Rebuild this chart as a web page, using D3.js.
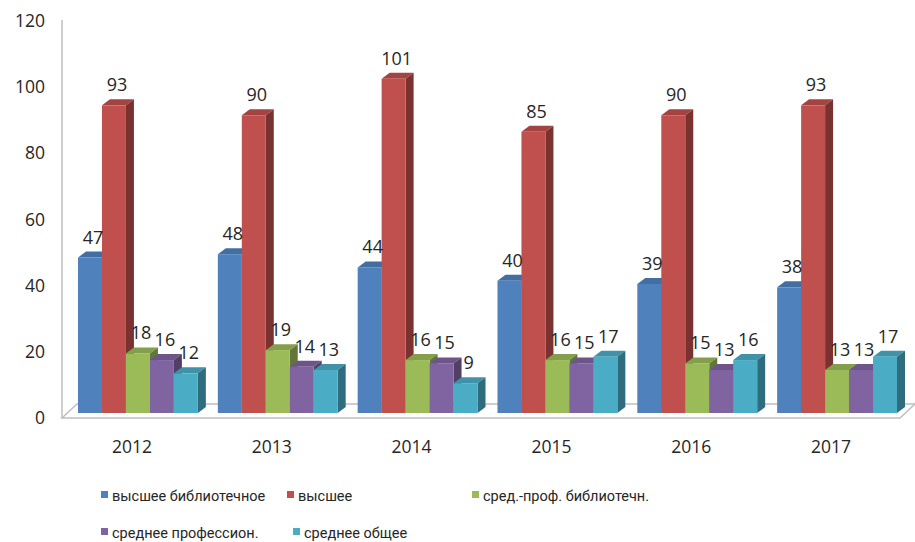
<!DOCTYPE html>
<html>
<head>
<meta charset="utf-8">
<script src="https://cdn.jsdelivr.net/npm/d3@7"></script>
<style>
  body { margin: 0; background: #fff; }
  text { font-family: "Open Sans", "Noto Sans", sans-serif; fill: #262626; }
  .legend text { font-family: Roboto, "Open Sans", sans-serif; }
</style>
</head>
<body>
<div id="chart"></div>
<script>
// chart data
var years = ["2012", "2013", "2014", "2015", "2016", "2017"];
var seriesNames = ["высшее библиотечное", "высшее", "сред.-проф. библиотечн.", "среднее профессион.", "среднее общее"];
var seriesColors = ["#4F81BD", "#C0504D", "#9BBB59", "#8064A2", "#4BACC6"];
var vysshBibl = [47, 48, 44, 40, 39, 38];
var vyssh = [93, 90, 101, 85, 90, 93];
var sredProfBibl = [18, 19, 16, 16, 15, 13];
var sredProf = [16, 14, 15, 15, 13, 13];
var sredObsh = [12, 13, 9, 17, 16, 17];
var yTicks = [0, 20, 40, 60, 80, 100, 120];

var seriesValues = [vysshBibl, vyssh, sredProfBibl, sredProf, sredObsh];

var svgWidth = 915;
var svgHeight = 542;

// 3d depth offset
var dx = 8, dy = -6;

var svg = d3.select("#chart")
  .append("svg")
  .attr("width", svgWidth)
  .attr("height", svgHeight);

var xScale = d3.scaleBand()
  .domain(years)
  .range([78, 897])
  .paddingInner(20 / 140)
  .paddingOuter(0);

var xInner = d3.scaleBand()
  .domain(seriesNames)
  .range([0, xScale.bandwidth()]);

var yScale = d3.scaleLinear()
  .domain([0, 120])
  .range([413, 16]);

// floor slab
svg.append("path")
  .attr("d", "M62,418 L900,418 L915,404 L77,404 Z")
  .attr("fill", "#fff")
  .attr("stroke", "#bfbfbf")
  .attr("stroke-width", 1.5);

// vertical axis line
svg.append("line")
  .attr("x1", 62).attr("x2", 62)
  .attr("y1", yScale(120) + 4).attr("y2", 418)
  .attr("stroke", "#bfbfbf")
  .attr("stroke-width", 1.5);

// y axis labels
var leftAxis = d3.axisLeft(yScale).tickValues(yTicks).tickSize(0).tickPadding(0);
var yAxisG = svg.append("g")
  .attr("transform", "translate(45, 5)")
  .call(leftAxis);
yAxisG.select(".domain").remove();
yAxisG.selectAll("text")
  .style("font-size", "17.5px")
  .style("font-family", "'Open Sans', sans-serif")
  .attr("fill", "#262626");

// bars
var barW = xInner.bandwidth();
years.forEach(function(year, i) {
  var g = svg.append("g");
  seriesNames.forEach(function(name, s) {
    var v = seriesValues[s][i];
    var x0 = xScale(year) + xInner(name);
    var x1 = x0 + barW;
    var yT = yScale(v);
    var yB = yScale(0);
    var base = d3.color(seriesColors[s]);
    // top face
    g.append("path")
      .attr("d", `M${x0},${yT} L${x0 + dx},${yT + dy} L${x1 + dx},${yT + dy} L${x1},${yT} Z`)
      .attr("fill", base.darker(0.45));
    // side face
    g.append("path")
      .attr("d", `M${x1},${yT} L${x1 + dx},${yT + dy} L${x1 + dx},${yB + dy} L${x1},${yB} Z`)
      .attr("fill", base.darker(1.3));
    // front face
    g.append("rect")
      .attr("x", x0)
      .attr("y", yT)
      .attr("width", barW)
      .attr("height", yB - yT)
      .attr("fill", base);
  });
  // value labels
  seriesNames.forEach(function(name, s) {
    var v = seriesValues[s][i];
    g.append("text")
      .attr("x", xScale(year) + xInner(name) + barW / 2 + 3)
      .attr("y", yScale(v) - 14)
      .attr("text-anchor", "middle")
      .style("font-size", "18px")
      .text(v);
  });
});

// category labels
svg.append("g").selectAll("text")
  .data(years).enter().append("text")
  .attr("x", d => xScale(d) + xScale.bandwidth() / 2 - 6)
  .attr("y", 453)
  .attr("text-anchor", "middle")
  .style("font-size", "17.5px")
  .text(d => d);

// legend
var legendPos = [[101, 495], [287, 495], [472, 495], [101, 532], [293, 532]];
var legend = svg.append("g").attr("class", "legend");
seriesNames.forEach(function(name, s) {
  var p = legendPos[s];
  legend.append("rect")
    .attr("x", p[0]).attr("y", p[1] - 4)
    .attr("width", 7).attr("height", 7)
    .attr("fill", seriesColors[s]);
  legend.append("text")
    .attr("x", p[0] + 11)
    .attr("y", p[1] + 5.5)
    .style("font-size", "14.5px")
    .text(name);
});
</script>
</body>
</html>
